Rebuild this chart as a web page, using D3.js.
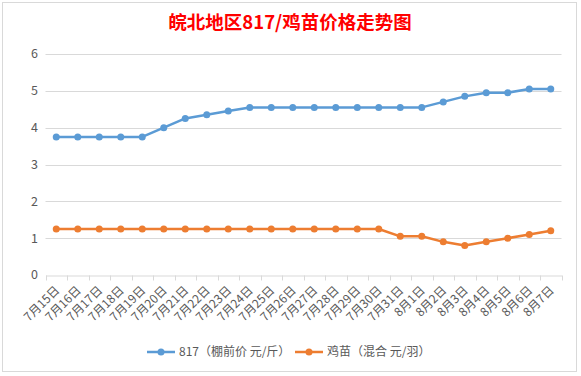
<!DOCTYPE html>
<html><head><meta charset="utf-8">
<script src="https://cdn.jsdelivr.net/npm/d3@7"></script>
<style>
html,body{margin:0;padding:0;background:#fff;}
svg{display:block;font-family:"Noto Sans CJK SC","Noto Sans",sans-serif;}
</style></head>
<body>
<svg id="c" width="581" height="376"></svg>
<script>
const title = "皖北地区817/鸡苗价格走势图";
const categories = ["7月15日","7月16日","7月17日","7月18日","7月19日","7月20日","7月21日","7月22日","7月23日","7月24日","7月25日","7月26日","7月27日","7月28日","7月29日","7月30日","7月31日","8月1日","8月2日","8月3日","8月4日","8月5日","8月6日","8月7日"];
const price817 = [3.75,3.75,3.75,3.75,3.75,4.0,4.25,4.35,4.45,4.55,4.55,4.55,4.55,4.55,4.55,4.55,4.55,4.55,4.7,4.85,4.95,4.95,5.05,5.05];
const chick = [1.25,1.25,1.25,1.25,1.25,1.25,1.25,1.25,1.25,1.25,1.25,1.25,1.25,1.25,1.25,1.25,1.05,1.05,0.9,0.8,0.9,1.0,1.1,1.2];
const yTicks = [0,1,2,3,4,5,6];
const seriesNames = ["817（棚前价 元/斤）","鸡苗（混合 元/羽）"];
const colors = ["#5B9BD5","#ED7D31"];

const svg = d3.select("#c");
svg.append("rect").attr("x",2.5).attr("y",2.5).attr("width",574).attr("height",369)
  .attr("fill","#fff").attr("stroke","#d9d9d9").attr("stroke-width",1);

const x = d3.scaleBand().domain(categories).range([45.5,561.5]);
const y = d3.scaleLinear().domain([0,6]).range([275,54]);

svg.append("g").selectAll("line").data(yTicks.filter(d=>d>0)).join("line")
  .attr("x1",45.5).attr("x2",561.5)
  .attr("y1",d=>Math.round(y(d))+0.5).attr("y2",d=>Math.round(y(d))+0.5)
  .attr("stroke","#d9d9d9").attr("stroke-width",1);

svg.append("g").selectAll("text").data(yTicks).join("text")
  .attr("x",38).attr("y",d=>y(d)).attr("dy","0.35em")
  .attr("text-anchor","end").attr("font-size",12.5).attr("fill","#595959")
  .text(d=>d);

const xAxis = d3.axisBottom(x).tickSize(0).tickFormat("");
const gx = svg.append("g").attr("transform","translate(0,275.5)").call(xAxis);
gx.select(".domain").attr("stroke","#d9d9d9");
const bounds = categories.map(c=>x(c)).concat([x(categories[categories.length-1])+x.bandwidth()]);
svg.append("g").selectAll("line").data(bounds).join("line")
  .attr("x1",d=>Math.round(d)+0.5).attr("x2",d=>Math.round(d)+0.5)
  .attr("y1",275.5).attr("y2",280.5).attr("stroke","#d9d9d9");

svg.append("g").selectAll("text").data(categories).join("text")
  .attr("transform",d=>`translate(${x(d)+x.bandwidth()/2+1},${288}) rotate(-45)`)
  .attr("text-anchor","end").attr("dy","0.35em")
  .attr("font-size",12).attr("fill","#595959")
  .text(d=>d);

svg.append("text").attr("x",290).attr("y",23).attr("dy","0.35em")
  .attr("text-anchor","middle").attr("font-size",18.5).attr("font-weight","bold")
  .attr("fill","#FF0000").text(title);

const cx = d=>x(d)+x.bandwidth()/2;
[price817, chick].forEach((vals,si)=>{
  const pts = categories.map((c,i)=>[cx(c), y(vals[i])]);
  svg.append("path").attr("d",d3.line()(pts)).attr("fill","none")
    .attr("stroke",colors[si]).attr("stroke-width",2.5).attr("stroke-linejoin","round").attr("stroke-linecap","round");
  svg.append("g").selectAll("circle").data(pts).join("circle")
    .attr("cx",d=>d[0]).attr("cy",d=>d[1]).attr("r",3.5).attr("fill",colors[si]);
});

const legX = [147, 295];
seriesNames.forEach((n,i)=>{
  const g = svg.append("g").attr("transform",`translate(${legX[i]},352)`);
  g.append("line").attr("x1",0).attr("x2",28).attr("y1",0).attr("y2",0)
    .attr("stroke",colors[i]).attr("stroke-width",2.5);
  g.append("circle").attr("cx",14).attr("cy",0).attr("r",3.5).attr("fill",colors[i]);
  g.append("text").attr("x",32).attr("y",0).attr("dy","0.35em")
    .attr("font-size",12).attr("fill","#595959").text(n);
});
</script>
</body></html>
